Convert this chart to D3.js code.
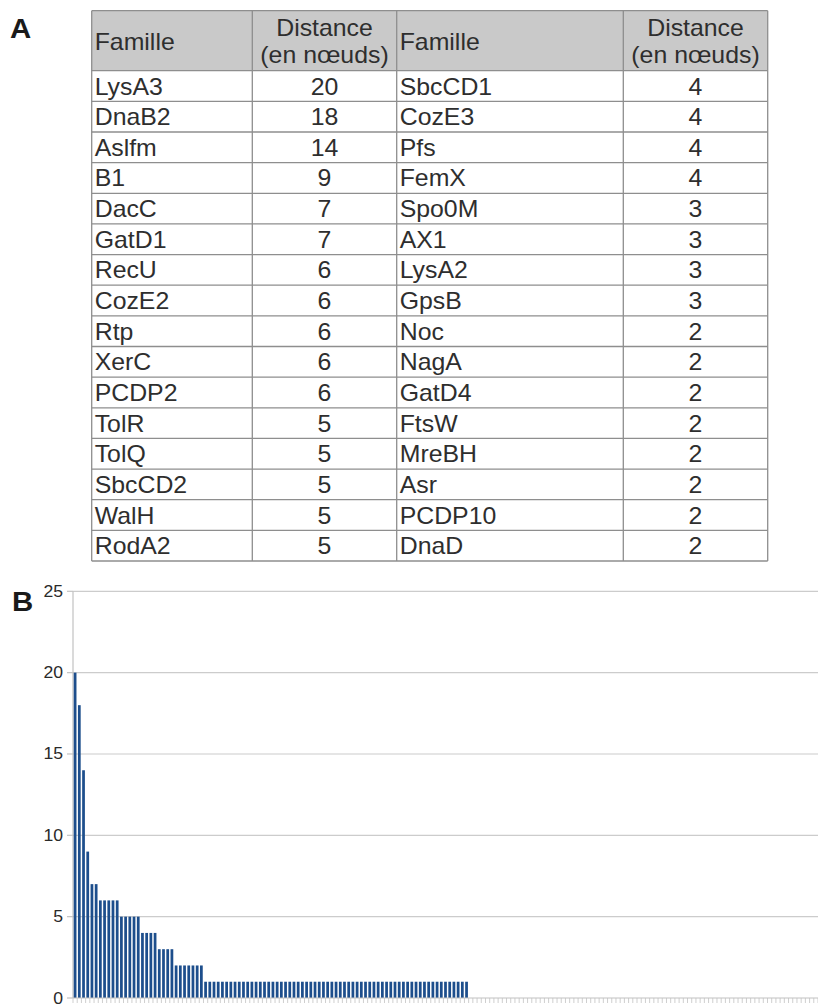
<!DOCTYPE html>
<html><head><meta charset="utf-8">
<script src="https://cdn.jsdelivr.net/npm/d3@7"></script>
<style>body{margin:0;background:#fff}svg{display:block}</style>
</head><body><svg id="c" width="818" height="1004"></svg>
<script>
// ---- Data (panel A table) ----
const headerFamily = "Famille";
const headerDistance = ["Distance", "(en nœuds)"];
const leftFamilies = ["LysA3","DnaB2","Aslfm","B1","DacC","GatD1","RecU","CozE2","Rtp","XerC","PCDP2","TolR","TolQ","SbcCD2","WalH","RodA2"];
const leftDistances = [20,18,14,9,7,7,6,6,6,6,6,5,5,5,5,5];
const rightFamilies = ["SbcCD1","CozE3","Pfs","FemX","Spo0M","AX1","LysA2","GpsB","Noc","NagA","GatD4","FtsW","MreBH","Asr","PCDP10","DnaD"];
const rightDistances = [4,4,4,4,3,3,3,3,2,2,2,2,2,2,2,2];

// ---- Data (panel B bar chart) ----
const barValues = [
  20,18,14,9,7,7,6,6,6,6,6,5,5,5,5,5,4,4,4,4,3,3,3,3,2,2,2,2,2,2,2,
  1,1,1,1,1,1,1,1,1,1,
  1,1,1,1,1,1,1,1,1,1,
  1,1,1,1,1,1,1,1,1,1,
  1,1,1,1,1,1,1,1,1,1,
  1,1,1,1,1,1,1,1,1,1,
  1,1,1,1,1,1,1,1,1,1,
  1,1,1,
  0,0,0,0,0,0,0,0,0,0,
  0,0,0,0,0,0,0,0,0,0,
  0,0,0,0,0,0,0,0,0,0,
  0,0,0,0,0,0,0,0,0,0,
  0,0,0,0,0,0,0,0,0,0,
  0,0,0,0,0,0,0,0,0,0,
  0,0,0,0,0,0,0,0,0,0,
  0,0,0,0,0,0,0,0,0,0,
  0,0,0
];
const yTicks = [0,5,10,15,20,25];
const panelLabels = ["A","B"];

// ---- Drawing ----
const svg = d3.select("#c");
const SX = 1.08;
function txt(g, x, y, s, opt) {
  opt = opt || {};
  return g.append("text")
    .attr("transform", `translate(${x},${y}) scale(${opt.sx || SX},1)`)
    .attr("text-anchor", opt.anchor || "start")
    .attr("font-family", "'Liberation Sans', Arial, sans-serif")
    .attr("font-size", opt.size || 23)
    .attr("font-weight", opt.weight || "normal")
    .attr("fill", opt.fill || "#2e2e2e")
    .text(s);
}

// Panel labels
txt(svg, 10, 38, panelLabels[0], {size: 28, weight: "bold", fill: "#1a1a1a", sx: 1.05});
txt(svg, 12, 611, panelLabels[1], {size: 28, weight: "bold", fill: "#1a1a1a", sx: 1.05});

// Table
const colEdges = [91.7, 252.3, 396.7, 623.3, 767.7];
const tableTop = 10.7, headerBottom = 70.7, tableBottom = 561;
const nRows = leftFamilies.length;
const rowY = d3.scaleLinear().domain([0, nRows]).range([headerBottom, tableBottom]);
const tg = svg.append("g");
tg.append("rect").attr("x", colEdges[0]).attr("y", tableTop)
  .attr("width", colEdges[4] - colEdges[0]).attr("height", headerBottom - tableTop)
  .attr("fill", "#c9c9c9");
const lineColor = "#8e8e8e";
const hLines = [tableTop].concat(d3.range(nRows + 1).map(i => rowY(i)));
tg.selectAll("line.h").data(hLines).enter().append("line")
  .attr("x1", colEdges[0]).attr("x2", colEdges[4])
  .attr("y1", d => d).attr("y2", d => d)
  .attr("stroke", lineColor).attr("stroke-width", 1.3);
tg.selectAll("line.v").data(colEdges).enter().append("line")
  .attr("x1", d => d).attr("x2", d => d)
  .attr("y1", tableTop).attr("y2", tableBottom)
  .attr("stroke", lineColor).attr("stroke-width", 1.3);

[0, 2].forEach(c => {
  txt(tg, colEdges[c] + 3, 50, headerFamily);
  const cx = (colEdges[c + 1] + colEdges[c + 2]) / 2;
  txt(tg, cx, 36, headerDistance[0], {anchor: "middle"});
  txt(tg, cx, 62.5, headerDistance[1], {anchor: "middle"});
});
const cols = [[leftFamilies, leftDistances, 0], [rightFamilies, rightDistances, 2]];
cols.forEach(([fam, dist, c]) => {
  fam.forEach((f, i) => {
    const base = rowY(i) + 23.8;
    txt(tg, colEdges[c] + 3, base, f);
    txt(tg, (colEdges[c + 1] + colEdges[c + 2]) / 2, base, String(dist[i]), {anchor: "middle"});
  });
});

// Bar chart
const x = d3.scaleBand().domain(d3.range(barValues.length)).range([73, 818])
  .paddingInner(0.35).paddingOuter(0.175);
const y = d3.scaleLinear().domain([0, 25]).range([998, 591.3]);
const cg = svg.append("g");
cg.selectAll("line.grid").data(yTicks.filter(t => t > 0)).enter().append("line")
  .attr("x1", 73).attr("x2", 818)
  .attr("y1", d => y(d)).attr("y2", d => y(d))
  .attr("stroke", "#cccccc").attr("stroke-width", 1.2);
cg.append("line").attr("x1", 73).attr("x2", 73).attr("y1", y(25)).attr("y2", y(0))
  .attr("stroke", "#c2c2c2").attr("stroke-width", 1.2);
cg.selectAll("line.yt").data(yTicks).enter().append("line")
  .attr("x1", 67).attr("x2", 73).attr("y1", d => y(d)).attr("y2", d => y(d))
  .attr("stroke", "#c2c2c2").attr("stroke-width", 1.2);
yTicks.forEach(t => txt(cg, 63, y(t) + 5.5, String(t), {anchor: "end", size: 16, sx: 1.1, fill: "#2a2a2a"}));
const step = x.step();
const bounds = d3.range(barValues.length + 1).map(i => 73 + i * step);
cg.selectAll("line.xt").data(bounds).enter().append("line")
  .attr("x1", d => d).attr("x2", d => d).attr("y1", y(0)).attr("y2", y(0) + 5)
  .attr("stroke", "#cfcfcf").attr("stroke-width", 1);
cg.selectAll("rect.bar").data(barValues).enter().append("rect")
  .attr("x", (d, i) => x(i)).attr("width", x.bandwidth())
  .attr("y", d => y(d)).attr("height", d => y(0) - y(d))
  .attr("fill", "#1d4e8c");
cg.append("line").attr("x1", 73).attr("x2", 818).attr("y1", y(0)).attr("y2", y(0))
  .attr("stroke", "#c2c2c2").attr("stroke-width", 1.2);
</script></body></html>
